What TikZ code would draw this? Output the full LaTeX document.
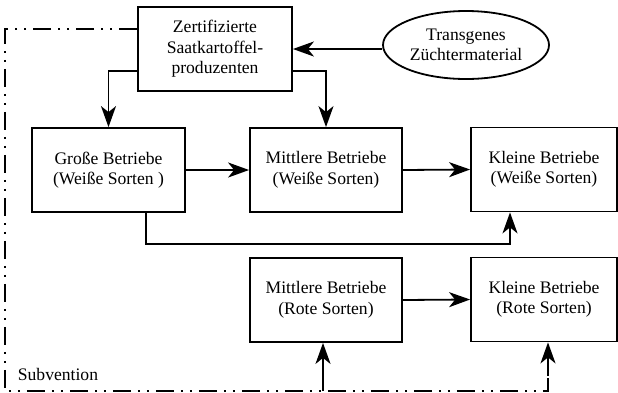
\documentclass[tikz,border=0pt]{standalone}
\usepackage{fontspec}
\setmainfont{Liberation Serif}
\usetikzlibrary{arrows.meta,shapes.geometric,calc}
\begin{document}
\begin{tikzpicture}[x=1pt,y=-1pt,
  font=\fontsize{17.6}{20.5}\selectfont,
  line width=1.8pt,
  box/.style={draw,rectangle,align=center,minimum height=84pt,inner sep=2pt},
  arr/.style={-{Stealth[length=21pt,width=15pt,inset=6pt]}},
  subv/.style={line width=1.3pt,dash pattern=on 18pt off 7pt on 2pt off 7pt on 2pt off 7pt}]
\useasboundingbox (0,0) rectangle (618,392);
\node[box,minimum width=154pt] (top) at (215,49) {Zertifizierte\\Saatkartoffel-\\produzenten};
\node[draw,ellipse,minimum width=166pt,minimum height=68pt,inner sep=1pt,align=center] (ell) at (466,45) {Transgenes\\Züchtermaterial};
\node[box,minimum width=153pt] (gw) at (108.5,170) {Große Betriebe\\(Weiße Sorten )};
\node[box,minimum width=152pt] (mw) at (326,170) {Mittlere Betriebe\\(Weiße Sorten)};
\node[box,minimum width=146pt] (kw) at (544,169.5) {Kleine Betriebe\\(Weiße Sorten)};
\node[box,minimum width=152pt] (mr) at (326,300) {Mittlere Betriebe\\(Rote Sorten)};
\node[box,minimum width=146pt] (kr) at (544,299.5) {Kleine Betriebe\\(Rote Sorten)};
\node[anchor=west,inner sep=0pt] (sub) at (17,374) {Subvention};
\coordinate (e1) at (0,49);
\coordinate (t1) at (0,71);
\coordinate (g1) at (146,244);
\coordinate (g2) at (510,244);
\coordinate (s0) at (0,29);
\coordinate (s1) at (5,29);
\coordinate (s2) at (5,391);
\coordinate (s3) at (548,391);
\coordinate (s4) at (548,376);
\coordinate (m0) at (323,391);
% connectors
\draw[arr] (ell.west |- e1) -- (top.east |- e1);
\draw[arr] (top.west |- t1) -| (gw.north);
\draw[arr] (top.east |- t1) -| (mw.north);
\draw[arr] (gw.east) -- (mw.west);
\draw[arr] (mw.east) -- (kw.west);
\draw[arr] (gw.south -| g1) -- (g1) -- (g2) -- (kw.south -| g2);
\draw[arr] (mr.east) -- (kr.west);
% Subvention
\draw[subv] (top.west |- s0) -- (s1) -- (s2) -- (s3) -- (s4);
\draw[arr] (m0) -- (mr.south -| m0);
\draw[arr] (s4) -- (kr.south -| s4);
\end{tikzpicture}
\end{document}
